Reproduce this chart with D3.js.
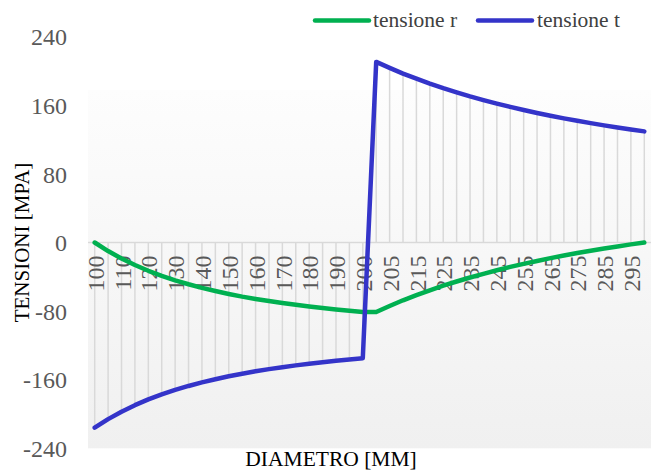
<!DOCTYPE html>
<html>
<head>
<meta charset="utf-8">
<script src="https://cdn.jsdelivr.net/npm/d3@7"></script>
<style>
  html, body { margin: 0; padding: 0; background: #fff; }
  svg { display: block; }
  svg text { font-family: "Liberation Serif", "Times New Roman", serif; }
</style>
</head>
<body>
<svg id="chart" width="651" height="472"></svg>
<script>
// Diameters along the compound cylinder: inner ring 100-200, outer ring 200-300
const diametri = [
  100, 105, 110, 115, 120, 125, 130, 135, 140, 145, 150, 155, 160, 165, 170, 175, 180, 185, 190, 195, 200,
  200, 205, 210, 215, 220, 225, 230, 235, 240, 245, 250, 255, 260, 265, 270, 275, 280, 285, 290, 295, 300
];

// Radial stress [MPa]
const tensioneR = [
  0, -10.0, -18.7, -26.3, -33.0, -38.9, -44.1, -48.7, -52.9, -56.6, -60.0, -63.1, -65.8, -68.3, -70.6, -72.7, -74.7, -76.4, -78.1, -79.6, -81.0,
  -81.0, -74.0, -67.4, -61.4, -55.7, -50.4, -45.5, -40.8, -36.5, -32.4, -28.5, -24.9, -21.5, -18.2, -15.2, -12.3, -9.6, -7.0, -4.6, -2.2, 0
];

// Hoop (tangential) stress [MPa]
const tensioneT = [
  -216.0, -206.0, -197.3, -189.7, -183.0, -177.1, -171.9, -167.3, -163.1, -159.4, -156.0, -153.0, -150.2, -147.7, -145.4, -143.3, -141.3, -139.6, -137.9, -136.4, -135.0,
  210.6, 203.6, 197.0, 191.0, 185.3, 180.0, 175.1, 170.4, 166.1, 162.0, 158.1, 154.5, 151.1, 147.9, 144.8, 141.9, 139.2, 136.6, 134.2, 131.8, 129.6
];

const yTicks = [-240, -160, -80, 0, 80, 160, 240];
const serieNomi = ["tensione r", "tensione t"];
const serieColori = ["#00b050", "#3434c9"];

const svg = d3.select("#chart");
const font = '"Liberation Serif", "Times New Roman", serif';

const plot = { left: 88, right: 651, top: 36.7, bottom: 448.3, fillTop: 90 };

// Category positions: one band per row, points centred in each band
const idx = d3.range(diametri.length);
const x = d3.scalePoint().domain(idx).range([plot.left, plot.right]).padding(0.5);
const y = d3.scaleLinear().domain([-240, 240]).range([plot.bottom, plot.top]);

// Plot-area gradient fill
const defs = svg.append("defs");
const grad = defs.append("linearGradient").attr("id", "plotFill")
  .attr("x1", 0).attr("y1", 0).attr("x2", 0).attr("y2", 1);
grad.append("stop").attr("offset", "0%").attr("stop-color", "#fdfdfd");
grad.append("stop").attr("offset", "100%").attr("stop-color", "#f0f0f0");

svg.append("rect")
  .attr("x", plot.left).attr("y", plot.fillTop)
  .attr("width", plot.right - plot.left).attr("height", plot.bottom - plot.fillTop)
  .attr("fill", "url(#plotFill)");

// Drop lines from the zero axis to the hoop-stress curve
svg.append("g").selectAll("line").data(idx).join("line")
  .attr("x1", i => x(i)).attr("x2", i => x(i))
  .attr("y1", y(0)).attr("y2", i => y(tensioneT[i]))
  .attr("stroke", "#d9d9d9").attr("stroke-width", 1.5);

// Horizontal category axis at zero
svg.append("line")
  .attr("x1", plot.left).attr("x2", plot.right)
  .attr("y1", y(0)).attr("y2", y(0))
  .attr("stroke", "#d9d9d9").attr("stroke-width", 1.5);

// Y axis labels (plain hyphen for negatives)
const yAxis = d3.axisLeft(y).tickValues(yTicks).tickFormat(d => String(d))
  .tickSize(0).tickPadding(0);
const gy = svg.append("g").attr("transform", "translate(67,0)").call(yAxis);
gy.select(".domain").remove();
gy.selectAll("text")
  .style("font-family", font).style("font-size", "24px").attr("fill", "#595959")
  .attr("dy", "0.34em");

// X axis labels: every other category, rotated, hanging below zero
const xAxis = d3.axisBottom(x)
  .tickValues(idx.filter(i => i % 2 === 0))
  .tickFormat(i => diametri[i])
  .tickSize(0).tickPadding(0);
const gx = svg.append("g").attr("transform", `translate(0,${y(0)})`).call(xAxis);
gx.select(".domain").remove();
gx.selectAll("text")
  .style("font-family", font).style("font-size", "24px").attr("fill", "#595959")
  .attr("text-anchor", "end")
  .attr("transform", "rotate(-90)")
  .attr("x", -13).attr("y", 0).attr("dy", "0.36em");

// Series lines
const line = d3.line().x((d, i) => x(i)).y(d => y(d));
[tensioneR, tensioneT].forEach((serie, k) => {
  svg.append("path")
    .datum(serie)
    .attr("d", line)
    .attr("fill", "none")
    .attr("stroke", serieColori[k])
    .attr("stroke-width", 4.5)
    .attr("stroke-linejoin", "round")
    .attr("stroke-linecap", "round");
});

// Legend
const legend = [
  { x1: 315, x2: 369, tx: 373 },
  { x1: 478, x2: 532, tx: 537 }
];
legend.forEach((l, k) => {
  svg.append("line")
    .attr("x1", l.x1).attr("x2", l.x2).attr("y1", 20.5).attr("y2", 20.5)
    .attr("stroke", serieColori[k]).attr("stroke-width", 4.5)
    .attr("stroke-linecap", "round");
  svg.append("text")
    .attr("x", l.tx).attr("y", 20.5).attr("dy", "0.32em")
    .style("font-family", font).style("font-size", "21.5px").attr("fill", "#404040")
    .text(serieNomi[k]);
});

// Axis titles
svg.append("text")
  .attr("x", 331).attr("y", 466)
  .attr("text-anchor", "middle")
  .style("font-family", font).style("font-size", "21.5px").attr("fill", "#000")
  .text("DIAMETRO [MM]");

svg.append("text")
  .attr("transform", `translate(22,${y(0)}) rotate(-90)`)
  .attr("text-anchor", "middle").attr("dy", "0.35em")
  .style("font-family", font).style("font-size", "21px").attr("fill", "#000")
  .text("TENSIONI [MPA]");
</script>
</body>
</html>
